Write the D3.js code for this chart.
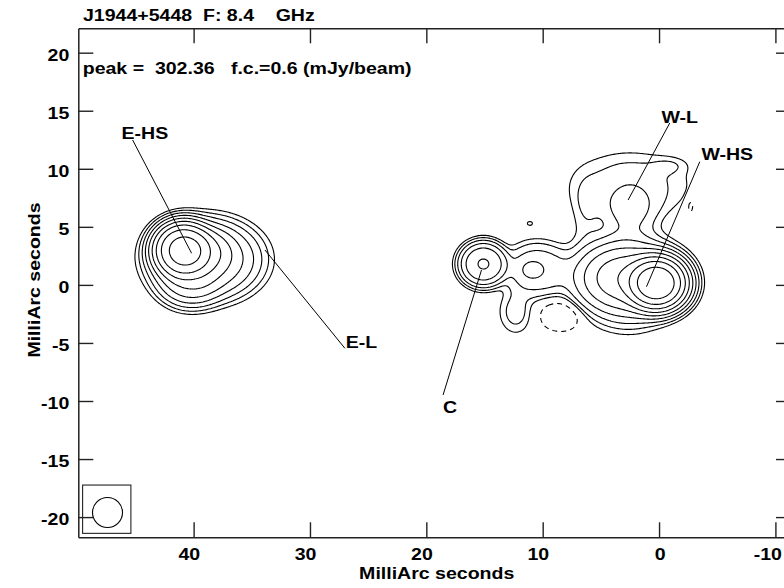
<!DOCTYPE html>
<html><head><meta charset="utf-8">
<script src="https://cdn.jsdelivr.net/npm/d3@7"></script>
<style>
body{margin:0;background:#fff}
text{font-family:"Liberation Sans",Arial,Helvetica,sans-serif;font-weight:bold;font-size:17px;fill:#000;white-space:pre}
</style>
</head><body>
<svg id="chart" width="784" height="588" xmlns="http://www.w3.org/2000/svg"></svg>
<script>
// ---------------- data ----------------
const titleText = "J1944+5448  F: 8.4    GHz";
const peakText = "peak =  302.36   f.c.=0.6 (mJy/beam)";
const axisTitle = "MilliArc seconds";
const xTicks = [40, 30, 20, 10, 0, -10];
const yTicks = [20, 15, 10, 5, 0, -5, -10, -15, -20];
const contourLevels = [0.6, 1.2, 2.4, 4.8, 9.6, 19.2, 38.4, 76.8, 153.6]; // f.c. x 2^n (mJy/beam)
const negativeLevels = [0.6]; // -f.c.

// emission components (RA offset mas, Dec offset mas, peak mJy/beam, major, minor, PA deg, profile index)
const compName  = ["E-HS","E-L","E-L2","E-S","W-HS","W-E","W-S","bridge","blob","core","lobe-S","W-L","W-L diffuse","W-L column","W-L tip","hole","noise+","noise-"];
const compX     = [40.9, 39.0, 38.9, 40.3, 0.2, 3.0, 2.5, 10.5, 10.9, 15.1, 12.3, 2.5, 2.5, 6.3, -1.0, 8.4, 11.1, -2.7];
const compY     = [3.0, 2.2, 2.8, 0.6, 0.15, 0.6, -2.5, 1.3, 1.3, 1.8, -2.3, 6.3, 8.6, 6.3, 10.3, -2.6, 5.3, 6.8];
const compPeak  = [200, 20, 25, 14, 302.36, 35, 1.2, 3.6, 2.9, 19.8, 1.8, 2.8, 1.3, 1.0, 0.8, -2.0, 0.75, -1.0];
const compAx    = [1.84, 3.6, 1.8, 2.2, 1.75, 3.0, 2.4, 2.6, 1.0, 1.67, 1.3, 2.0, 5.2, 1.2, 1.5, 1.8, 0.45, 0.35];
const compAy    = [1.72, 2.6, 1.6, 1.9, 1.55, 2.2, 1.6, 2.2, 0.8, 1.55, 1.7, 2.4, 2.9, 2.5, 0.7, 1.3, 0.35, 0.75];
const compPA    = [0, 0, 0, 0, 0, 0, 0, 0, 0, 0, 0, 0, 0, 0, 0, 0, 0, 0];
const compIndex = [2.5, 2.5, 2.5, 2.5, 2.2, 2, 2, 3, 2, 2.7, 2, 2, 4, 2, 2, 2, 2, 2];

// restoring beam (centre x, y in mas; radius mas) and its box
const beamCentre = [47.4, -19.6];
const beamRadius = 1.29;
const beamBox = [[49.54, -17.24], [45.39, -21.4]];

// component labels
const labelNames = ["E-HS", "E-L", "C", "W-L", "W-HS"];
const labelPos   = [[46.19, 12.57], [26.92, -5.46], [18.56, -11.03], [-0.21, 13.94], [-3.64, 10.76]];
const labelFrom  = [[45.24, 12.48], [33.87, 3.01], [15.26, 1.28], [2.66, 7.31], [1.08, -0.16]];
const labelTo    = [[40.17, 2.72], [27.0, -5.46], [18.56, -9.48], [-0.92, 13.94], [-3.5, 10.61]];

// ---------------- layout ----------------
const svg = d3.select("#chart");
const L = 78.3, R = 791, T = 28.3, B = 537.3;
const x = d3.scaleLinear().domain([49.91, -11.34]).range([L, R]);
const y = d3.scaleLinear().domain([22.1, -21.74]).range([T, B]);
const SX = 1.15; // horizontal stretch of the lettering

svg.append("defs").append("clipPath").attr("id", "clip")
  .append("rect").attr("x", L).attr("y", T).attr("width", R - L).attr("height", B - T);

// ---------------- brightness grid ----------------
const step = 0.1, gx0 = -11.6, gy0 = -22.1;
const nx = Math.ceil((50.2 - gx0) / step) + 1, ny = Math.ceil((22.4 - gy0) / step) + 1;
const grid = new Float64Array(nx * ny);
for (let c = 0; c < compX.length; c++) {
  const th = compPA[c] * Math.PI / 180, ct = Math.cos(th), st = Math.sin(th);
  const ax = compAx[c], ay = compAy[c], half = compIndex[c] / 2, P = compPeak[c];
  for (let j = 0; j < ny; j++) {
    const dy = gy0 + j * step - compY[c];
    for (let i = 0; i < nx; i++) {
      const dx = gx0 + i * step - compX[c];
      const u = (dx * ct + dy * st) / ax, v = (-dx * st + dy * ct) / ay;
      const r2 = u * u + v * v;
      if (r2 > 40) continue;
      grid[j * nx + i] += P * Math.exp(-Math.pow(r2, half));
    }
  }
}
const negGrid = grid.map(v => -v);

const proj = d3.geoTransform({
  point: function (gx, gy) {
    this.stream.point(x(gx0 + (gx - 0.5) * step), y(gy0 + (gy - 0.5) * step));
  }
});
const path = d3.geoPath(proj);

const gC = svg.append("g").attr("clip-path", "url(#clip)");
const pos = d3.contours().size([nx, ny]).thresholds(contourLevels)(Array.from(grid));
gC.selectAll("path.pos").data(pos).join("path").attr("class", "pos")
  .attr("d", path).attr("fill", "none").attr("stroke", "#000").attr("stroke-width", 1.1);
const neg = d3.contours().size([nx, ny]).thresholds(negativeLevels)(Array.from(negGrid));
gC.selectAll("path.neg").data(neg).join("path").attr("class", "neg")
  .attr("d", path).attr("fill", "none").attr("stroke", "#000").attr("stroke-width", 1.1)
  .attr("stroke-dasharray", "5,4");

// ---------------- beam ----------------
svg.append("rect")
  .attr("x", x(beamBox[0][0])).attr("y", y(beamBox[0][1]))
  .attr("width", x(beamBox[1][0]) - x(beamBox[0][0]))
  .attr("height", y(beamBox[1][1]) - y(beamBox[0][1]))
  .attr("fill", "none").attr("stroke", "#222").attr("stroke-width", 1.1);
svg.append("ellipse")
  .attr("cx", x(beamCentre[0])).attr("cy", y(beamCentre[1]))
  .attr("rx", x(beamCentre[0] - beamRadius) - x(beamCentre[0]))
  .attr("ry", y(beamCentre[1] - beamRadius) - y(beamCentre[1]))
  .attr("fill", "none").attr("stroke", "#000").attr("stroke-width", 1.1);

// ---------------- axes ----------------
const fmt = d => String(d);
function styleAxis(g) {
  g.attr("font-family", null).attr("font-size", null);
  g.selectAll("path.domain").attr("stroke", "#222").attr("stroke-width", 1.5);
  g.selectAll(".tick line").attr("stroke", "#222").attr("stroke-width", 1.4);
  g.selectAll(".tick text").attr("fill", "#000");
}
const gb = svg.append("g").attr("transform", `translate(0,${B})`)
  .call(d3.axisBottom(x).tickValues(xTicks).tickSize(-15).tickSizeOuter(0).tickFormat(fmt));
gb.selectAll("text").attr("dy", null).attr("y", null)
  .attr("text-anchor", "end").attr("transform", `translate(6,22.3) scale(${SX},1)`);
styleAxis(gb);
const gt = svg.append("g").attr("transform", `translate(0,${T})`)
  .call(d3.axisTop(x).tickValues(xTicks).tickSize(-15).tickSizeOuter(0).tickFormat(""));
styleAxis(gt);
const gl = svg.append("g").attr("transform", `translate(${L},0)`)
  .call(d3.axisLeft(y).tickValues(yTicks).tickSize(-15).tickSizeOuter(0).tickFormat(fmt));
gl.selectAll("text").attr("dy", null).attr("x", null)
  .attr("text-anchor", "end").attr("transform", `translate(-9,7.5) scale(${SX},1)`);
styleAxis(gl);
const gr = svg.append("g").attr("transform", `translate(${R},0)`)
  .call(d3.axisRight(y).tickValues(yTicks).tickSize(-15).tickSizeOuter(0).tickFormat(""));
styleAxis(gr);

// ---------------- titles ----------------
svg.append("text").attr("transform", `translate(83,20.7) scale(${SX},1)`).text(titleText);
svg.append("text").attr("transform", `translate(82.7,74) scale(${SX},1)`).text(peakText);
svg.append("text").attr("text-anchor", "middle")
  .attr("transform", `translate(436.7,579) scale(${SX},1)`).text(axisTitle);
svg.append("text").attr("text-anchor", "middle")
  .attr("transform", `translate(40.3,280) rotate(-90) scale(${SX},1)`).text(axisTitle);

// ---------------- labels ----------------
labelNames.forEach((n, i) => {
  svg.append("line")
    .attr("x1", x(labelFrom[i][0])).attr("y1", y(labelFrom[i][1]))
    .attr("x2", x(labelTo[i][0])).attr("y2", y(labelTo[i][1]))
    .attr("stroke", "#000").attr("stroke-width", 1);
  svg.append("text")
    .attr("transform", `translate(${x(labelPos[i][0])},${y(labelPos[i][1])}) scale(${SX},1)`)
    .text(n);
});
</script>
</body></html>
